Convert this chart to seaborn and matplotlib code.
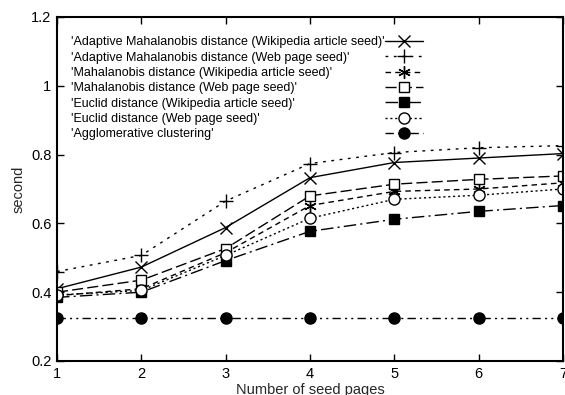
import matplotlib
matplotlib.use("Agg")
import matplotlib.pyplot as plt
import seaborn as sns
import pandas as pd

seed_pages = [1, 2, 3, 4, 5, 6, 7]
adaptive_wiki = [0.41, 0.473, 0.588, 0.733, 0.777, 0.790, 0.803]
adaptive_web = [0.46, 0.507, 0.665, 0.774, 0.806, 0.820, 0.826]
maha_wiki = [0.39, 0.41, 0.515, 0.652, 0.693, 0.700, 0.718]
maha_web = [0.40, 0.435, 0.527, 0.680, 0.714, 0.728, 0.738]
euclid_wiki = [0.385, 0.40, 0.492, 0.577, 0.612, 0.635, 0.652]
euclid_web = [0.392, 0.405, 0.507, 0.615, 0.670, 0.682, 0.700]
agglomerative = [0.325, 0.325, 0.325, 0.325, 0.325, 0.325, 0.325]

labels = [
    "'Adaptive Mahalanobis distance (Wikipedia article seed)'",
    "'Adaptive Mahalanobis distance (Web page seed)'",
    "'Mahalanobis distance (Wikipedia article seed)'",
    "'Mahalanobis distance (Web page seed)'",
    "'Euclid distance (Wikipedia article seed)'",
    "'Euclid distance (Web page seed)'",
    "'Agglomerative clustering'",
]
series = [adaptive_wiki, adaptive_web, maha_wiki, maha_web,
          euclid_wiki, euclid_web, agglomerative]

styles = [
    dict(marker="x", ms=8, mfc="black", ls="-"),
    dict(marker="+", ms=10, mfc="black", ls=(0, (2, 4))),
    dict(marker=(6, 2, 0), ms=9, mfc="black", ls=(0, (4, 3))),
    dict(marker="s", ms=7.5, mfc="white", ls=(0, (8, 3))),
    dict(marker="s", ms=7.5, mfc="black", ls=(0, (9, 3, 1.5, 3))),
    dict(marker="o", ms=8, mfc="white", ls=(0, (1.5, 2))),
    dict(marker="o", ms=8, mfc="black", ls=(0, (6, 3, 1.5, 3, 1.5, 3))),
]

sns.set_theme(style="ticks")
plt.rcParams["font.family"] = ["Liberation Sans", "DejaVu Sans"]

W, H = 565, 395
fig = plt.figure(figsize=(W / 100, H / 100), dpi=100)
ax = fig.add_axes([57 / W, 1 - 361 / H, 506 / W, 344 / H])

for lab, vals, st in zip(labels, series, styles):
    df = pd.DataFrame({"pages": seed_pages, "second": vals})
    sns.lineplot(data=df, x="pages", y="second", ax=ax, color="black",
                 linewidth=1.0, linestyle=st["ls"], marker=st["marker"],
                 markersize=st["ms"], markerfacecolor=st["mfc"],
                 markeredgecolor="black", markeredgewidth=1.0, label=lab)

ax.set_xlim(1, 7)
ax.set_ylim(0.2, 1.2)
ax.set_xticks(seed_pages)
ax.set_yticks([0.2, 0.4, 0.6, 0.8, 1.0, 1.2])
ax.set_yticklabels(["0.2", "0.4", "0.6", "0.8", "1", "1.2"])
ax.tick_params(direction="in", length=5, width=1, top=True, right=True,
               labelsize=10.5, colors="black", pad=4)
for s in ax.spines.values():
    s.set_visible(True)
    s.set_linewidth(1.5)
    s.set_color("black")
ax.set_xlabel("Number of seed pages", fontsize=10.5, labelpad=1.5)
ax.set_ylabel("second", fontsize=10.5, labelpad=4)

# legend: sample lines in a column, label texts left-aligned in front of them
handles, labs = ax.get_legend_handles_labels()
leg_fs = 6
leg = ax.legend(handles, [" "] * len(handles), loc="upper left",
                bbox_to_anchor=((385 - 57) / 506, (361 - 38) / 344),
                frameon=False, markerfirst=True, fontsize=leg_fs,
                handlelength=38 / (leg_fs * 100 / 72), handletextpad=0,
                labelspacing=0.9, borderpad=0, borderaxespad=0)
fig.canvas.draw()
renderer = fig.canvas.get_renderer()
for t, lab in zip(leg.get_texts(), labels):
    bb = t.get_window_extent(renderer)
    yc = (bb.y0 + bb.y1) / 2
    fig.text(71 / W, yc / H, lab, ha="left", va="center", fontsize=9,
             color="black")

fig.savefig("out.png", dpi=100)
